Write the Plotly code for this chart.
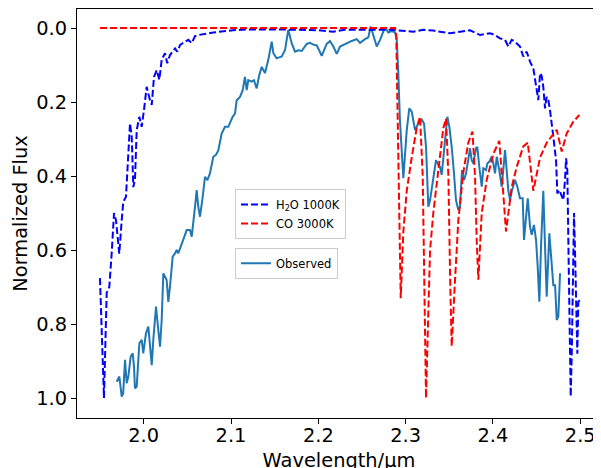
import plotly.graph_objects as go

# ---- H2O 1000K model (blue dashed) ----
h2o_wl = [1.9499, 1.9545, 1.9576, 1.9606, 1.9633, 1.9660, 1.9683, 1.9709, 1.9720, 1.9748,
          1.9766, 1.9797, 1.9824, 1.9843, 1.9863, 1.9881, 1.9900, 1.9920, 1.9950, 1.9977,
          2.0003, 2.0034, 2.0072, 2.0092, 2.0118, 2.0149, 2.0179, 2.0206, 2.0244, 2.0270,
          2.0301, 2.0359, 2.0385, 2.0416, 2.0473, 2.0511, 2.0550, 2.0588, 2.0625, 2.0722,
          2.0797, 2.1023, 2.1180, 2.1561, 2.1790, 2.2000, 2.2168, 2.2300, 2.2478, 2.2821,
          2.3088, 2.3203, 2.3317, 2.3394, 2.3509, 2.3623, 2.3738, 2.3852, 2.3967, 2.4024,
          2.4081, 2.4139, 2.4176, 2.4215, 2.4253, 2.4310, 2.4348, 2.4387, 2.4425, 2.4463,
          2.4494, 2.4520, 2.4540, 2.4559, 2.4577, 2.4597, 2.4616, 2.4635, 2.4654, 2.4674,
          2.4692, 2.4723, 2.4738, 2.4761, 2.4788, 2.4807, 2.4826, 2.4838, 2.4852, 2.4864,
          2.4883, 2.4891, 2.4903, 2.4914, 2.4929, 2.4941, 2.4952, 2.4967, 2.4978, 2.4998]
h2o_flux = [0.676, 1.000, 0.716, 0.700, 0.610, 0.500, 0.520, 0.590, 0.610, 0.520,
            0.470, 0.456, 0.357, 0.258, 0.294, 0.430, 0.410, 0.276, 0.240, 0.267,
            0.222, 0.159, 0.195, 0.208, 0.132, 0.114, 0.140, 0.086, 0.068, 0.095,
            0.073, 0.055, 0.064, 0.046, 0.037, 0.032, 0.041, 0.022, 0.019, 0.014,
            0.012, 0.006, 0.004, 0.004, 0.005, 0.006, 0.010, 0.005, 0.005, 0.005,
            0.010, 0.005, 0.007, 0.010, 0.014, 0.010, 0.006, 0.019, 0.014, 0.019,
            0.028, 0.032, 0.050, 0.032, 0.037, 0.050, 0.077, 0.064, 0.091, 0.109,
            0.150, 0.195, 0.122, 0.130, 0.159, 0.217, 0.186, 0.195, 0.222, 0.267,
            0.294, 0.357, 0.447, 0.438, 0.456, 0.465, 0.410, 0.352, 0.384, 0.610,
            0.880, 0.996, 0.880, 0.700, 0.500, 0.610, 0.716, 0.880, 0.740, 0.735]

# ---- CO 3000K model (red dashed) ----
co_wl = [1.9500, 2.2880, 2.2893, 2.2944, 2.2974, 2.3013, 2.3070, 2.3127, 2.3165, 2.3196,
         2.3215, 2.3234, 2.3260, 2.3280, 2.3317, 2.3375, 2.3432, 2.3463, 2.3490, 2.3512,
         2.3528, 2.3566, 2.3604, 2.3661, 2.3718, 2.3766, 2.3795, 2.3815, 2.3833, 2.3872,
         2.3929, 2.4005, 2.4073, 2.4110, 2.4150, 2.4215, 2.4273, 2.4348, 2.4399, 2.4463,
         2.4540, 2.4616, 2.4692, 2.4731, 2.4788, 2.4845, 2.4921, 2.4990]
co_flux = [0.000, 0.000, 0.020, 0.730, 0.550, 0.440, 0.350, 0.270, 0.240, 0.400,
           0.700, 1.000, 0.770, 0.600, 0.500, 0.390, 0.270, 0.245, 0.400, 0.700,
           0.860, 0.680, 0.520, 0.390, 0.310, 0.280, 0.400, 0.580, 0.680, 0.500,
           0.410, 0.340, 0.305, 0.420, 0.550, 0.430, 0.375, 0.320, 0.310, 0.440,
           0.350, 0.310, 0.285, 0.275, 0.334, 0.285, 0.253, 0.235]

# ---- Observed spectrum (solid) ----
obs_wl = [1.9691, 1.9721, 1.9748, 1.9765, 1.9786, 1.9805, 1.9824, 1.9851, 1.9874, 1.9889,
          1.9900, 1.9920, 1.9950, 1.9977, 1.9995, 2.0026, 2.0053, 2.0072, 2.0092, 2.0110,
          2.0141, 2.0167, 2.0187, 2.0206, 2.0225, 2.0263, 2.0282, 2.0301, 2.0332, 2.0359,
          2.0378, 2.0396, 2.0416, 2.0454, 2.0493, 2.0530, 2.0550, 2.0588, 2.0607, 2.0625,
          2.0645, 2.0676, 2.0702, 2.0729, 2.0759, 2.0797, 2.0828, 2.0855, 2.0893, 2.0931,
          2.0969, 2.1019, 2.1046, 2.1065, 2.1103, 2.1134, 2.1160, 2.1180, 2.1198, 2.1237,
          2.1263, 2.1294, 2.1324, 2.1352, 2.1389, 2.1427, 2.1466, 2.1485, 2.1523, 2.1581,
          2.1619, 2.1656, 2.1695, 2.1733, 2.1771, 2.1810, 2.1867, 2.1905, 2.1943, 2.1982,
          2.2039, 2.2096, 2.2134, 2.2172, 2.2211, 2.2249, 2.2306, 2.2344, 2.2383, 2.2440,
          2.2478, 2.2535, 2.2573, 2.2600, 2.2638, 2.2669, 2.2707, 2.2764, 2.2802, 2.2841,
          2.2879, 2.2898, 2.2916, 2.2935, 2.2974, 2.3013, 2.3042, 2.3070, 2.3108, 2.3145,
          2.3184, 2.3211, 2.3234, 2.3260, 2.3280, 2.3299, 2.3325, 2.3348, 2.3375, 2.3394,
          2.3413, 2.3451, 2.3478, 2.3501, 2.3528, 2.3554, 2.3577, 2.3604, 2.3623, 2.3646,
          2.3669, 2.3692, 2.3718, 2.3738, 2.3757, 2.3776, 2.3806, 2.3821, 2.3844, 2.3872,
          2.3890, 2.3921, 2.3936, 2.3959, 2.3986, 2.4005, 2.4024, 2.4044, 2.4073, 2.4101,
          2.4139, 2.4158, 2.4176, 2.4196, 2.4215, 2.4253, 2.4280, 2.4310, 2.4341, 2.4356,
          2.4379, 2.4399, 2.4425, 2.4444, 2.4470, 2.4494, 2.4513, 2.4532, 2.4551, 2.4577,
          2.4597, 2.4616, 2.4646, 2.4674, 2.4692, 2.4712, 2.4731, 2.4749, 2.4769]
obs_flux = [0.956, 0.942, 0.996, 0.988, 0.897, 0.960, 0.942, 0.888, 0.879, 0.915,
            0.974, 0.969, 0.852, 0.843, 0.879, 0.825, 0.807, 0.861, 0.911, 0.843,
            0.753, 0.816, 0.861, 0.789, 0.663, 0.681, 0.740, 0.699, 0.618, 0.609,
            0.600, 0.609, 0.595, 0.573, 0.546, 0.546, 0.564, 0.483, 0.438, 0.483,
            0.510, 0.456, 0.402, 0.411, 0.393, 0.348, 0.343, 0.330, 0.285, 0.267,
            0.267, 0.240, 0.231, 0.195, 0.186, 0.168, 0.132, 0.168, 0.141, 0.145,
            0.141, 0.163, 0.127, 0.105, 0.122, 0.086, 0.037, 0.068, 0.082, 0.077,
            0.059, 0.005, 0.041, 0.064, 0.060, 0.062, 0.043, 0.040, 0.045, 0.047,
            0.075, 0.043, 0.035, 0.050, 0.070, 0.050, 0.043, 0.040, 0.035, 0.030,
            0.040, 0.030, 0.025, -0.004, 0.030, 0.050, 0.032, -0.002, 0.012, 0.008,
            0.012, 0.030, 0.120, 0.250, 0.406, 0.276, 0.217, 0.226, 0.276, 0.258,
            0.247, 0.258, 0.321, 0.483, 0.465, 0.438, 0.393, 0.357, 0.370, 0.375,
            0.397, 0.312, 0.240, 0.267, 0.321, 0.393, 0.465, 0.492, 0.483, 0.384,
            0.411, 0.393, 0.348, 0.325, 0.357, 0.366, 0.325, 0.321, 0.375, 0.429,
            0.379, 0.384, 0.366, 0.361, 0.348, 0.366, 0.393, 0.348, 0.384, 0.429,
            0.330, 0.393, 0.438, 0.465, 0.442, 0.411, 0.429, 0.460, 0.460, 0.573,
            0.510, 0.460, 0.537, 0.559, 0.532, 0.573, 0.645, 0.740, 0.591, 0.440,
            0.591, 0.726, 0.555, 0.627, 0.695, 0.695, 0.789, 0.780, 0.663]

x_ticks = [2.0, 2.1, 2.2, 2.3, 2.4, 2.5]
y_ticks = [0.0, 0.2, 0.4, 0.6, 0.8, 1.0]

FONT = "DejaVu Sans"

fig = go.Figure()
fig.add_trace(go.Scatter(x=obs_wl, y=obs_flux, mode="lines", name="Observed",
                         line=dict(color="#1f77b4", width=2), legend="legend2"))
fig.add_trace(go.Scatter(x=h2o_wl, y=h2o_flux, mode="lines", name="H<sub>2</sub>O 1000K",
                         line=dict(color="#0000ff", width=2, dash="7px,3px"), legend="legend"))
fig.add_trace(go.Scatter(x=co_wl, y=co_flux, mode="lines", name="CO 3000K",
                         line=dict(color="#ff0000", width=2, dash="7px,3px"), legend="legend"))

axis_common = dict(showline=True, linecolor="black", linewidth=1, mirror=True,
                   ticks="outside", ticklen=5, tickwidth=1, tickcolor="black",
                   showgrid=False, zeroline=False, automargin=False,
                   tickfont=dict(family=FONT, size=19.4, color="black"))

fig.update_layout(
    width=593, height=472,
    margin=dict(l=69, r=0, t=1, b=62),
    paper_bgcolor="white", plot_bgcolor="white",
    font=dict(family=FONT, color="black"),
    xaxis=dict(range=[1.9236, 2.5238], tickvals=x_ticks, tickformat=".1f",
               ticklabelstandoff=-5,
               title=dict(text="Wavelength/μm", font=dict(family=FONT, size=19.4), standoff=7),
               **axis_common),
    yaxis=dict(range=[1.054, -0.0514], tickvals=y_ticks, tickformat=".1f",
               title=dict(text="Normalized Flux", font=dict(family=FONT, size=19.4), standoff=3),
               **axis_common),
    legend=dict(x=0.3015, y=0.560, xanchor="left", yanchor="top",
                bgcolor="rgba(255,255,255,0.8)", bordercolor="#cccccc", borderwidth=1,
                font=dict(family=FONT, size=11.5), tracegroupgap=0, traceorder="normal"),
    legend2=dict(x=0.3015, y=0.416, xanchor="left", yanchor="top",
                 bgcolor="rgba(255,255,255,0.8)", bordercolor="#cccccc", borderwidth=1,
                 font=dict(family=FONT, size=11.5)),
    showlegend=True,
)

fig.write_html("out.html")
